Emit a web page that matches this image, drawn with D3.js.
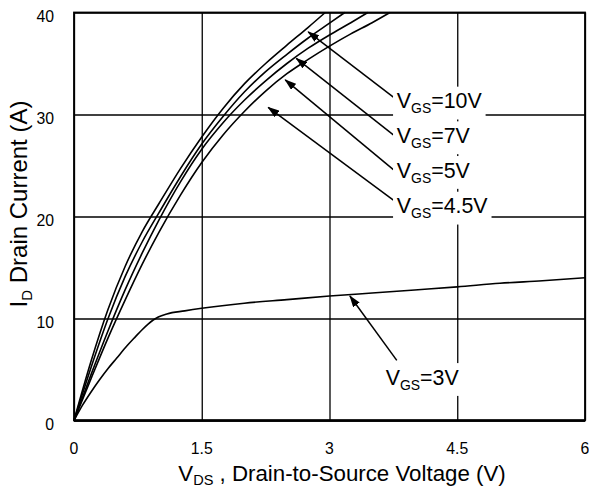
<!DOCTYPE html>
<html>
<head>
<meta charset="utf-8">
<script src="https://cdn.jsdelivr.net/npm/d3@7"></script>
<style>
  body { margin: 0; background: #fff; }
  svg { display: block; }
  text { font-family: "Liberation Sans", Arial, sans-serif; fill: #000; }
</style>
</head>
<body>
<svg id="chart" width="589" height="491"></svg>
<script>
// Axis ticks
const xTicks = [0, 1.5, 3, 4.5, 6];
const xTickLabels = ["0", "1.5", "3", "4.5", "6"];
const yTicks = [0, 10, 20, 30, 40];
const yTickLabels = ["0", "10", "20", "30", "40"];

// Output characteristics: drain-source voltage (V) and drain current (A) per gate voltage
const vds10 = [0, 0.2, 0.4, 0.6, 0.8, 1.0, 1.25, 1.5, 1.75, 2.0, 2.25, 2.5, 2.75, 2.95];
const id10  = [0, 5.8, 10.9, 15.1, 18.5, 21.3, 24.7, 27.8, 30.6, 33.0, 35.0, 36.8, 38.55, 40.0];

const vds7 = [0, 0.2, 0.4, 0.6, 0.8, 1.0, 1.25, 1.5, 1.75, 2.0, 2.25, 2.5, 2.75, 3.0, 3.18];
const id7  = [0, 5.2, 10.0, 14.1, 17.5, 20.4, 23.9, 27.1, 29.8, 32.2, 34.2, 35.9, 37.5, 38.95, 40.0];

const vds5 = [0, 0.2, 0.4, 0.6, 0.8, 1.0, 1.25, 1.5, 1.75, 2.0, 2.25, 2.5, 2.75, 3.0, 3.25, 3.45];
const id5  = [0, 4.5, 8.8, 12.8, 16.4, 19.7, 23.4, 26.6, 29.2, 31.4, 33.3, 35.0, 36.5, 37.8, 39.0, 40.0];

const vds45 = [0, 0.2, 0.4, 0.6, 0.8, 1.0, 1.25, 1.5, 1.75, 2.0, 2.25, 2.5, 2.75, 3.0, 3.25, 3.5, 3.71];
const id45  = [0, 4.1, 8.1, 11.8, 15.3, 18.5, 22.1, 25.3, 28.0, 30.3, 32.3, 34.0, 35.4, 36.7, 37.9, 39.0, 40.0];

const vds3 = [0, 0.1, 0.2, 0.3, 0.4, 0.5, 0.62, 0.72, 0.8, 0.87, 0.93, 0.99, 1.09, 1.3, 1.5, 2.0, 2.5, 3.0, 3.5, 4.0, 4.5, 5.0, 5.5, 6.0];
const id3  = [0, 1.5, 2.8, 4.0, 5.1, 6.1, 7.3, 8.2, 8.9, 9.45, 9.85, 10.15, 10.45, 10.75, 11.0, 11.5, 11.85, 12.2, 12.5, 12.8, 13.1, 13.45, 13.7, 14.0];

// Gate voltage labels
const gateValues = ["10V", "7V", "5V", "4.5V", "3V"];

// Annotation arrows (tail -> head) and label anchors, in data units (V, A)
const arrowTails = [[3.75, 31.7], [3.75, 28.0], [3.75, 24.6], [3.75, 21.6], [3.79, 5.9]];
const arrowHeads = [[2.75, 38.1], [2.61, 35.5], [2.48, 33.4], [2.28, 30.7], [3.24, 12.2]];
const labelAnchors = [[3.79, 30.6], [3.79, 27.2], [3.79, 23.8], [3.79, 20.3], [3.66, 3.5]];

const curves = [
  { vds: vds10, id: id10 },
  { vds: vds7,  id: id7 },
  { vds: vds5,  id: id5 },
  { vds: vds45, id: id45 },
  { vds: vds3,  id: id3 }
];

const svg = d3.select("#chart");
const plotLeft = 74, plotRight = 585, plotTop = 12.5, plotBottom = 420.5;
const sx = 0.93;   // horizontal squeeze applied to horizontal text

const x = d3.scaleLinear().domain([0, 6]).range([plotLeft, plotRight]);
const y = d3.scaleLinear().domain([0, 40]).range([plotBottom, plotTop]);

// Grid lines
const grid = svg.append("g");
grid.append("g")
  .attr("transform", `translate(0,${plotBottom})`)
  .call(d3.axisBottom(x).tickValues(xTicks).tickSize(-(plotBottom - plotTop)).tickFormat(""))
  .call(g => g.select(".domain").remove())
  .call(g => g.selectAll("line").attr("stroke", "#000").attr("stroke-width", 1.3));
grid.append("g")
  .attr("transform", `translate(${plotLeft},0)`)
  .call(d3.axisLeft(y).tickValues(yTicks).tickSize(-(plotRight - plotLeft)).tickFormat(""))
  .call(g => g.select(".domain").remove())
  .call(g => g.selectAll("line").attr("stroke", "#000").attr("stroke-width", 1.3));

// Frame
svg.append("rect")
  .attr("x", plotLeft).attr("y", plotTop)
  .attr("width", plotRight - plotLeft).attr("height", plotBottom - plotTop)
  .attr("fill", "none").attr("stroke", "#000").attr("stroke-width", 1.8);
svg.append("line")
  .attr("x1", plotLeft).attr("x2", plotRight).attr("y1", plotBottom).attr("y2", plotBottom)
  .attr("stroke", "#000").attr("stroke-width", 2.6);

// Tick labels
const tickG = svg.append("g");
yTicks.forEach((v, i) => {
  tickG.append("g")
    .attr("transform", `translate(54,${y(v) + 9}) scale(${sx},1)`)
    .append("text")
    .attr("text-anchor", "end")
    .attr("font-size", 17)
    .text(yTickLabels[i]);
});
xTicks.forEach((v, i) => {
  tickG.append("g")
    .attr("transform", `translate(${x(v)},454) scale(${sx},1)`)
    .append("text")
    .attr("text-anchor", "middle")
    .attr("font-size", 17)
    .text(xTickLabels[i]);
});

// Axis titles
const xTitle = svg.append("g")
  .attr("transform", "translate(342,481) scale(0.97,1)")
  .append("text").attr("text-anchor", "middle").attr("font-size", 23);
xTitle.append("tspan").text("V");
xTitle.append("tspan").attr("font-size", 15).attr("dy", 4).text("DS");
xTitle.append("tspan").attr("dy", -4).text(" , Drain-to-Source Voltage (V)");

const yTitle = svg.append("g")
  .attr("transform", "translate(27,204) rotate(-90)")
  .append("text").attr("text-anchor", "middle").attr("font-size", 24);
yTitle.append("tspan").text("I");
yTitle.append("tspan").attr("font-size", 15).attr("dy", 5).text("D");
yTitle.append("tspan").attr("dy", -5).text(" Drain Current (A)");

// Label boxes mask grid lines behind the gate-voltage labels
const labelGroups = gateValues.map((g, i) => {
  const grp = svg.append("g")
    .attr("transform", `translate(${x(labelAnchors[i][0])},${y(labelAnchors[i][1])}) scale(${sx},1)`);
  grp.append("rect").attr("fill", "#fff");
  const t = grp.append("text").attr("font-size", 23);
  t.append("tspan").text("V");
  t.append("tspan").attr("font-size", 15).attr("dy", 5).text("GS");
  t.append("tspan").attr("dy", -5).text("=" + g);
  const bb = t.node().getBBox();
  grp.select("rect")
    .attr("x", bb.x - 4).attr("y", bb.y - 1)
    .attr("width", bb.width + 8).attr("height", bb.height + 4);
  return grp;
});

// Curves
const line = d3.line()
  .x(d => x(d[0]))
  .y(d => y(d[1]))
  .curve(d3.curveMonotoneX);
svg.append("g")
  .selectAll("path")
  .data(curves)
  .join("path")
  .attr("d", c => line(c.vds.map((v, i) => [v, c.id[i]])))
  .attr("fill", "none")
  .attr("stroke", "#000")
  .attr("stroke-width", 1.6);

// Arrows
svg.append("defs").append("marker")
  .attr("id", "head")
  .attr("viewBox", "0 0 12 8")
  .attr("refX", 11).attr("refY", 4)
  .attr("markerWidth", 12).attr("markerHeight", 8)
  .attr("markerUnits", "userSpaceOnUse")
  .attr("orient", "auto")
  .append("path").attr("d", "M0,0L12,4L0,8Z").attr("fill", "#000");

svg.append("g")
  .selectAll("line")
  .data(arrowTails)
  .join("line")
  .attr("x1", d => x(d[0])).attr("y1", d => y(d[1]))
  .attr("x2", (d, i) => x(arrowHeads[i][0])).attr("y2", (d, i) => y(arrowHeads[i][1]))
  .attr("stroke", "#000").attr("stroke-width", 1.5)
  .attr("marker-end", "url(#head)");

// Keep labels on top
labelGroups.forEach(g => g.raise());
</script>
</body>
</html>
